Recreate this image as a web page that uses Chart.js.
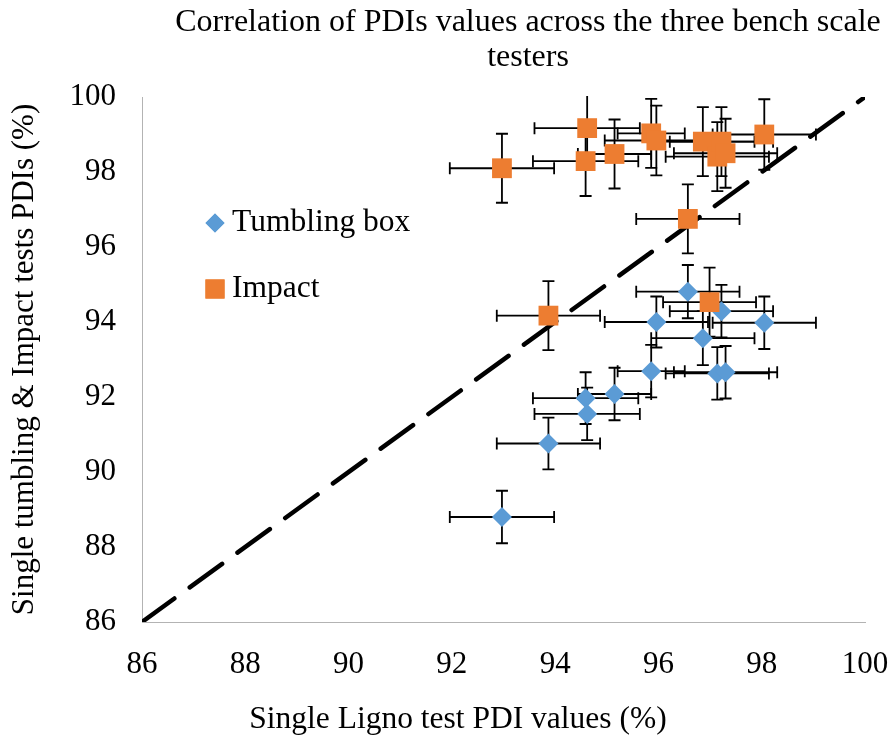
<!DOCTYPE html>
<html>
<head>
<meta charset="utf-8">
<script src="https://cdn.jsdelivr.net/npm/chart.js@4.4.1/dist/chart.umd.min.js"></script>
<style>
  html, body { margin: 0; padding: 0; background: #fff; }
  #wrap { width: 894px; height: 740px; }
</style>
</head>
<body>
<div id="wrap"><canvas id="pdiChart" width="894" height="740"></canvas></div>
<script>
const titleLines = ['Correlation of PDIs values across the three bench scale', 'testers'];
const xTitle = 'Single Ligno test PDI values (%)';
const yTitle = 'Single tumbling & Impact tests PDIs (%)';
const seriesNames = ['Tumbling box', 'Impact'];

// Ligno PDI (x) with its error
const tumblingX = [92.97, 93.87, 94.59, 94.62, 95.15, 95.86, 95.96, 96.57, 96.86, 97.14, 97.22, 97.30, 98.05];
const tumblingY = [88.80, 90.76, 91.97, 91.55, 92.08, 92.69, 94.00, 94.81, 93.57, 92.63, 94.29, 92.66, 93.98];
const tumblingXErr = [1.01, 1.0, 1.02, 1.02, 0.71, 0.65, 1.0, 1.0, 1.0, 1.0, 1.0, 1.0, 1.0];
const tumblingYErr = [0.70, 0.69, 0.69, 0.70, 0.70, 0.70, 0.68, 0.71, 0.72, 0.70, 0.70, 0.70, 0.70];

const impactX = [92.97, 93.87, 94.59, 94.62, 95.15, 95.86, 95.96, 96.57, 96.86, 97.14, 97.22, 97.30, 98.05, 96.99];
const impactY = [98.10, 94.17, 98.29, 99.17, 98.48, 99.03, 98.84, 96.75, 98.81, 98.41, 98.81, 98.50, 99.00, 94.53];
const impactXErr = [1.01, 1.0, 1.02, 1.02, 0.71, 0.65, 1.0, 1.0, 1.0, 1.0, 1.0, 1.0, 1.0, 0.9];
const impactYErr = [0.92, 0.92, 0.93, 0.92, 0.92, 0.92, 0.93, 0.92, 0.92, 0.92, 0.92, 0.92, 0.94, 0.92];

const diagonal = [86, 100];
const axisMin = 86, axisMax = 100, axisStep = 2;

const serif = "'Liberation Serif', 'Times New Roman', serif";
const blue = '#5B9BD5';
const orange = '#ED7D31';

function points(xs, ys, xe, ye) {
    return xs.map((x, i) => ({ x: x, y: ys[i], xErr: xe[i], yErr: ye[i] }));
}

// error bars, drawn under the markers
const errorBars = {
    id: 'errorBars',
    beforeDatasetsDraw(chart) {
        const ctx = chart.ctx;
        const xs = chart.scales.x, ys = chart.scales.y;
        const area = chart.chartArea;
        const cap = 6;
        ctx.save();
        ctx.beginPath();
        ctx.rect(area.left, area.top - 1, area.right - area.left, area.bottom - area.top + 2);
        ctx.clip();
        ctx.strokeStyle = '#000';
        ctx.lineWidth = 1.8;
        chart.data.datasets.forEach(ds => {
            if (!ds.errors) return;
            ds.data.forEach(p => {
                const cx = xs.getPixelForValue(p.x), cy = ys.getPixelForValue(p.y);
                const x0 = xs.getPixelForValue(p.x - p.xErr), x1 = xs.getPixelForValue(p.x + p.xErr);
                const y0 = ys.getPixelForValue(p.y - p.yErr), y1 = ys.getPixelForValue(p.y + p.yErr);
                ctx.beginPath();
                ctx.moveTo(x0, cy); ctx.lineTo(x1, cy);
                ctx.moveTo(x0, cy - cap); ctx.lineTo(x0, cy + cap);
                ctx.moveTo(x1, cy - cap); ctx.lineTo(x1, cy + cap);
                ctx.moveTo(cx, y0); ctx.lineTo(cx, y1);
                ctx.moveTo(cx - cap, y0); ctx.lineTo(cx + cap, y0);
                ctx.moveTo(cx - cap, y1); ctx.lineTo(cx + cap, y1);
                ctx.stroke();
            });
        });
        ctx.restore();
    }
};

// title, x axis title and the in-plot legend
const decorations = {
    id: 'decorations',
    afterDraw(chart) {
        const ctx = chart.ctx;
        ctx.save();
        ctx.fillStyle = '#000';
        ctx.font = '32px ' + serif;
        ctx.textAlign = 'center';
        ctx.textBaseline = 'middle';
        ctx.fillText(titleLines[0], 528, 23);
        ctx.fillText(titleLines[1], 528, 58);

        ctx.font = '31.5px ' + serif;
        ctx.fillText(xTitle, 458, 720);

        ctx.textAlign = 'left';
        ctx.font = '31.5px ' + serif;
        const items = [
            { name: seriesNames[0], style: 'rectRot', r: 9.5, color: blue, y: 223 },
            { name: seriesNames[1], style: 'rect', r: 13.5, color: orange, y: 289 }
        ];
        items.forEach(it => {
            ctx.fillStyle = it.color;
            ctx.strokeStyle = it.color;
            Chart.helpers.drawPoint(ctx, { pointStyle: it.style, radius: it.r, borderWidth: 0 }, 215, it.y);
            ctx.fill();
            ctx.fillStyle = '#000';
            ctx.fillText(it.name, 232, it.y);
        });
        ctx.restore();
    }
};

new Chart(document.getElementById('pdiChart').getContext('2d'), {
    type: 'scatter',
    data: {
        datasets: [{
            label: seriesNames[1],
            data: points(impactX, impactY, impactXErr, impactYErr),
            errors: true,
            pointStyle: 'rect',
            pointRadius: 14,
            pointHoverRadius: 14,
            backgroundColor: orange,
            borderColor: orange,
            borderWidth: 0,
            order: 1
        }, {
            label: seriesNames[0],
            data: points(tumblingX, tumblingY, tumblingXErr, tumblingYErr),
            errors: true,
            pointStyle: 'rectRot',
            pointRadius: 10,
            pointHoverRadius: 10,
            backgroundColor: blue,
            borderColor: blue,
            borderWidth: 0,
            order: 2
        }, {
            label: 'y = x',
            type: 'line',
            data: diagonal.map(v => ({ x: v, y: v })),
            showLine: true,
            borderColor: '#000',
            borderWidth: 4.5,
            borderDash: [40, 19],
            borderCapStyle: 'round',
            pointRadius: 0,
            fill: false,
            order: 3
        }]
    },
    options: {
        responsive: false,
        animation: false,
        events: [],
        layout: { padding: { top: 97, right: 29, left: 0, bottom: 0 } },
        plugins: {
            legend: { display: false },
            title: { display: false },
            tooltip: { enabled: false }
        },
        scales: {
            x: {
                type: 'linear',
                min: axisMin,
                max: axisMax,
                afterFit(scale) {
                    scale.height = 118;
                    scale.paddingLeft = 0;
                    scale.paddingRight = 0;
                },
                grid: { display: false, drawTicks: false },
                border: { display: true, color: '#B3B3B3', width: 1 },
                ticks: { stepSize: axisStep, padding: 24, color: '#000', font: { family: serif, size: 31 } }
            },
            y: {
                type: 'linear',
                min: axisMin,
                max: axisMax,
                afterFit(scale) {
                    scale.width = 142;
                    scale.paddingTop = 0;
                    scale.paddingBottom = 0;
                },
                grid: { display: false, drawTicks: false },
                border: { display: true, color: '#B3B3B3', width: 1 },
                ticks: { stepSize: axisStep, padding: 26, color: '#000', font: { family: serif, size: 31 } },
                title: {
                    display: true,
                    text: yTitle,
                    color: '#000',
                    font: { family: serif, size: 31 },
                    padding: { top: 6, bottom: 0 }
                }
            }
        }
    },
    plugins: [errorBars, decorations]
});
</script>
</body>
</html>
